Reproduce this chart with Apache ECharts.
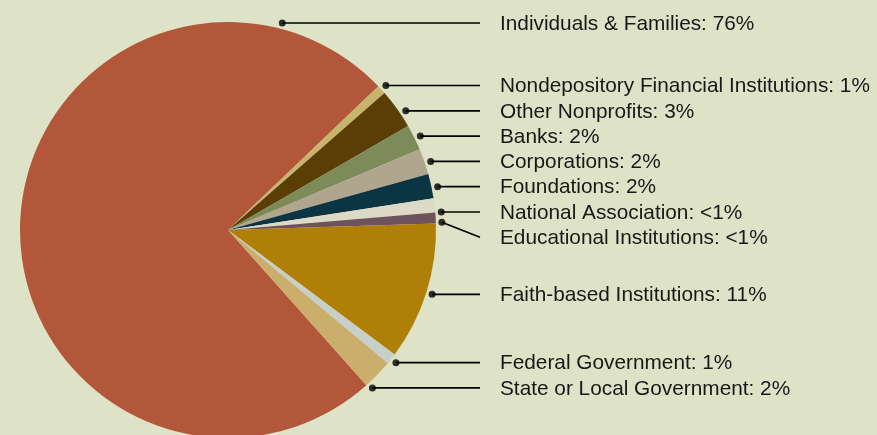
<!DOCTYPE html>
<html>
<head>
<meta charset="utf-8">
<script src="https://cdn.jsdelivr.net/npm/echarts@6/dist/echarts.min.js"></script>
<style>
html,body{margin:0;padding:0;background:#DEE2C6;}
#chart{width:877px;height:435px;}
</style>
</head>
<body>
<div id="chart"></div>
<script>
// ---- data ----
const categories = [
  'Individuals & Families',
  'Nondepository Financial Institutions',
  'Other Nonprofits',
  'Banks',
  'Corporations',
  'Foundations',
  'National Association',
  'Educational Institutions',
  'Faith-based Institutions',
  'Federal Government',
  'State or Local Government'
];
const shares = [74.4, 0.7, 3.1, 2.0, 2.0, 1.9, 1.1, 0.85, 10.7, 0.85, 2.35];
const shareLabels = ['76%', '1%', '3%', '2%', '2%', '2%', '<1%', '<1%', '11%', '1%', '2%'];
const colors = ['#B2573A', '#C9B46E', '#5A3E06', '#7D8A5A', '#B0A68E', '#0B3542',
                '#DCD9C6', '#6E525C', '#B07F07', '#C7CFC9', '#CCAE6C'];

// ---- layout ----
const CX = 228, CY = 230, R = 208;
const START = -48.3;          // start angle of first slice (degrees, clockwise)
const R_DOT = 214;            // radius where leader dots sit
const LINE_END = 480, TEXT_X = 500, GAP = 25.3;

const total = shares.reduce((a, b) => a + b, 0);
const slices = [];
let a = START;
shares.forEach((v, i) => {
  const span = v / total * 360;
  slices.push({ a0: a, a1: a - span, mid: a - span / 2 });
  a -= span;
});
const rad = d => d * Math.PI / 180;

// ideal label y values, then push apart
const ideal = slices.map(s => Math.cos(rad(s.mid)) < 0 ? CY - R + 1 : CY - R_DOT * Math.sin(rad(s.mid)));
const order = ideal.map((y, i) => i).sort((p, q) => ideal[p] - ideal[q]);
const labelY = new Array(shares.length);
let prev = -Infinity;
order.forEach(i => { labelY[i] = Math.max(ideal[i], prev + GAP); prev = labelY[i]; });

function norm(x) { return ((x % 360) + 360) % 360; }
// dot angle: where the label's horizontal meets the circle, clamped into the slice
const TOL = 0.6;
const dotAngle = slices.map((s, i) => {
  const t = Math.max(-1, Math.min(1, (CY - labelY[i]) / R_DOT));
  let ang = Math.asin(t) * 180 / Math.PI;
  const span = s.a0 - s.a1;
  const d = norm(s.a0 + TOL - ang);
  if (d <= span + 2 * TOL) return ang;
  const pad = Math.min(0.3, span / 4);
  const d0 = norm(s.a0 - ang);
  const toStart = Math.min(d0, 360 - d0);
  const dEnd = norm(ang - s.a1);
  const toEnd = Math.min(dEnd, 360 - dEnd);
  return toStart < toEnd ? s.a0 - pad : s.a1 + pad;
});
const dotPx = dotAngle.map(g => [CX + R_DOT * Math.cos(rad(g)), CY - R_DOT * Math.sin(rad(g))]);

const chart = echarts.init(document.getElementById('chart'), null, { renderer: 'canvas' });
chart.setOption({
  backgroundColor: '#DEE2C6',
  animation: false,
  polar: { center: [CX, CY], radius: R_DOT },
  angleAxis: { type: 'value', min: 0, max: 360, startAngle: 0, clockwise: false, show: false },
  radiusAxis: { type: 'value', min: 0, max: 1, show: false },
  series: [
    {
      type: 'pie',
      center: [CX, CY],
      radius: R,
      startAngle: START,
      clockwise: true,
      avoidLabelOverlap: false,
      emphasis: { disabled: true },
      data: categories.map((c, i) => ({ name: c, value: shares[i], itemStyle: { color: colors[i] } })),
      label: {
        show: true,
        position: 'outside',
        formatter: p => categories[p.dataIndex] + ': ' + shareLabels[p.dataIndex],
        color: '#181818',
        fontSize: 20.8,
        fontFamily: 'Liberation Sans'
      },
      labelLine: { show: true, length: 10, length2: 10, lineStyle: { color: '#000', width: 1.7 } },
      labelLayout: function (params) {
        const i = params.dataIndex;
        const y = labelY[i];
        const d = dotPx[i];
        return {
          x: TEXT_X,
          y: y + 1,
          align: 'left',
          verticalAlign: 'middle',
          labelLinePoints: [d, [(d[0] + LINE_END) / 2, (d[1] + y) / 2], [LINE_END, y]]
        };
      }
    },
    {
      type: 'scatter',
      coordinateSystem: 'polar',
      symbol: 'circle',
      symbolSize: 7,
      itemStyle: { color: '#000' },
      silent: true,
      z: 5,
      data: dotAngle.map(g => [1, norm(g)])
    }
  ]
});
</script>
</body>
</html>
